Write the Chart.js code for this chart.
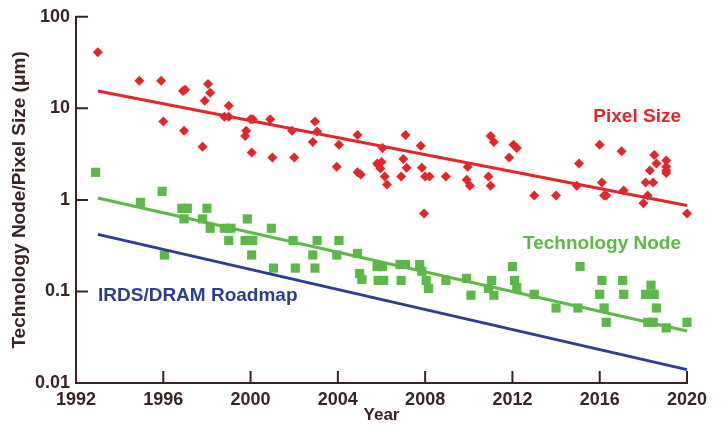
<!DOCTYPE html>
<html><head><meta charset="UTF-8">
<title>Technology Node / Pixel Size</title>
<script src="https://cdn.jsdelivr.net/npm/chart.js@4"></script>
<style>html,body{margin:0;padding:0;background:#fff}
#wrap{width:725px;height:428px}</style>
</head><body>
<div id="wrap"><canvas id="c"></canvas></div>
<script>
// pixel size measurements (µm)
const pixelYears = [1993, 1994.9, 1995.9, 1996, 1996.9, 1997, 1996.95, 1998.05, 1998.15, 1997.9, 1997.8,
  1999, 1998.8, 1999, 2000, 2000.1, 1999.8, 1999.75, 2000.05, 2000.9, 2001, 2001.9, 2002,
  2002.95, 2003.05, 2002.85, 2003.95, 2004.05, 2004.9, 2004.9, 2005.05, 2006.05, 2005.8, 2006, 2005.85, 2005.95,
  2006.15, 2006.25, 2007.1, 2007, 2007.15, 2006.9, 2007.8, 2007.85, 2008, 2008.2, 2007.95, 2008.95,
  2009.95, 2009.9, 2010.05, 2011, 2011.15, 2010.9, 2011, 2011.85, 2012.05, 2012.2, 2013, 2014,
  2015.05, 2014.95, 2016, 2016.1, 2016.2, 2016.3, 2017, 2017.1, 2018.5, 2018.6, 2019.05, 2019.05,
  2019.05, 2019.05, 2018.3, 2018.1, 2018.45, 2018.2, 2018, 2020];
const pixelSizes = [41, 20, 20, 7.2, 15.5, 16, 5.7, 18.5, 14.8, 12.1, 3.8,
  10.7, 8.1, 8.1, 7.6, 7.6, 5.7, 5.0, 3.3, 7.6, 2.9, 5.7, 2.9,
  7.2, 5.6, 4.3, 2.3, 4.0, 5.1, 2.0, 1.9, 3.7, 2.5, 2.6, 2.4, 2.2,
  1.8, 1.47, 5.1, 2.8, 2.24, 1.8, 3.9, 2.24, 1.8, 1.8, 0.71, 1.8,
  2.3, 1.66, 1.43, 5.0, 4.3, 1.8, 1.43, 2.9, 4.0, 3.7, 1.12, 1.12,
  2.5, 1.43, 4.0, 1.55, 1.12, 1.12, 3.4, 1.27, 3.1, 2.5, 2.7, 2.3,
  2.1, 1.97, 2.1, 1.55, 1.55, 1.12, 0.92, 0.71];

// technology node measurements (µm)
const nodeYears = [1992.9, 1994.95, 1995.95, 1996.05, 1996.85, 1997.1, 1996.95, 1998, 1997.8, 1998.15,
  1998.8, 1999.1, 1999, 1999.85, 1999.75, 2000.1, 2000.05, 2000.95, 2001.05, 2001.95, 2002.05,
  2003.05, 2002.85, 2002.95, 2004.05, 2003.95, 2004.9, 2005, 2005.1, 2005.8, 2006.05, 2005.85, 2006.1,
  2006.85, 2007.1, 2006.9, 2007.75, 2007.85, 2008.05, 2008.15, 2008.95, 2009.9, 2010.1,
  2011.05, 2011.15, 2010.9, 2012, 2012.1, 2012.2, 2013, 2014, 2015, 2015.1,
  2016.1, 2016, 2016.2, 2016.3, 2017.05, 2017.1, 2018.35, 2018.1, 2018.5, 2018.6,
  2018.2, 2018.45, 2019.05, 2020];
const nodeSizes = [2.0, 0.94, 1.24, 0.25, 0.81, 0.81, 0.62, 0.81, 0.62, 0.49,
  0.49, 0.49, 0.36, 0.62, 0.36, 0.36, 0.25, 0.49, 0.18, 0.36, 0.18,
  0.36, 0.25, 0.18, 0.36, 0.25, 0.26, 0.157, 0.135, 0.187, 0.187, 0.132, 0.132,
  0.197, 0.197, 0.132, 0.197, 0.166, 0.132, 0.108, 0.132, 0.139, 0.091,
  0.132, 0.091, 0.108, 0.187, 0.132, 0.11, 0.093, 0.066, 0.066, 0.187,
  0.132, 0.093, 0.066, 0.046, 0.132, 0.093, 0.117, 0.093, 0.093, 0.066,
  0.046, 0.046, 0.040, 0.046];

// fitted trend lines, start/end
const trendYears = [1993, 2020];
const pixelTrend = [15.5, 0.87];
const nodeTrend = [1.05, 0.037];
const roadmapTrend = [0.42, 0.014];

const yearTicks = [1992, 1996, 2000, 2004, 2008, 2012, 2016, 2020];
const sizeTicks = [0.01, 0.1, 1, 10, 100];
const sizeLabels = ['0.01', '0.1', '1', '10', '100'];

const RED = '#e3262b', GREEN = '#5cb947', BLUE = '#2d3c94', AXIS = '#3a2424';
const FONT = '"Liberation Sans", Arial, sans-serif';

const pts = (xs, ys) => xs.map((x, i) => ({ x, y: ys[i] }));

// inward tick marks + series labels
const extras = {
  id: 'extras',
  afterDraw(chart) {
    const { ctx, chartArea: a, scales: { x, y } } = chart;
    ctx.save();
    ctx.strokeStyle = AXIS;
    ctx.lineWidth = 2;
    ctx.beginPath();
    yearTicks.forEach(t => {
      const px = x.getPixelForValue(t);
      ctx.moveTo(px, a.bottom); ctx.lineTo(px, a.bottom - 12);
    });
    sizeTicks.forEach(t => {
      const py = y.getPixelForValue(t);
      ctx.moveTo(a.left, py); ctx.lineTo(a.left + 12, py);
    });
    ctx.stroke();
    ctx.font = 'bold 19px ' + FONT;
    ctx.textBaseline = 'middle';
    ctx.textAlign = 'right';
    ctx.fillStyle = RED; ctx.fillText('Pixel Size', 681, 117);
    ctx.fillStyle = GREEN; ctx.fillText('Technology Node', 681, 244);
    ctx.textAlign = 'left';
    ctx.fillStyle = BLUE; ctx.fillText('IRDS/DRAM Roadmap', 98, 296);
    ctx.restore();
  }
};

const line = (data, color) => ({
  type: 'line', data: pts(trendYears, data), borderColor: color, borderWidth: 3,
  pointRadius: 0, fill: false, clip: false
});

new Chart(document.getElementById('c'), {
  type: 'scatter',
  data: {
    datasets: [
      line(pixelTrend, RED),
      line(nodeTrend, GREEN),
      line(roadmapTrend, BLUE),
      { data: pts(pixelYears, pixelSizes), pointStyle: 'rectRot', pointRadius: 5,
        backgroundColor: RED, borderWidth: 0, clip: false },
      { data: pts(nodeYears, nodeSizes), pointStyle: 'rect', pointRadius: 6.5,
        backgroundColor: GREEN, borderWidth: 0, clip: false }
    ]
  },
  options: {
    responsive: true, maintainAspectRatio: false, animation: false, devicePixelRatio: 1,
    layout: { padding: { top: 12, right: 38, left: 0, bottom: 0 } },
    plugins: { legend: { display: false }, tooltip: { enabled: false } },
    scales: {
      x: {
        type: 'linear', min: 1992, max: 2020,
        afterBuildTicks: s => { s.ticks = yearTicks.map(v => ({ value: v })); },
        afterFit: s => { s.height = 45; },
        grid: { display: false, drawTicks: false },
        border: { display: true, color: AXIS, width: 2 },
        ticks: { padding: 6, color: AXIS, maxRotation: 0, autoSkip: false,
          font: { family: FONT, weight: 'bold', size: 18 }, callback: v => String(v) },
        title: { display: true, text: 'Year', color: AXIS, padding: { top: 0, bottom: 2 },
          font: { family: FONT, weight: 'bold', size: 17 } }
      },
      y: {
        type: 'logarithmic', min: 0.01, max: 100,
        afterBuildTicks: s => { s.ticks = sizeTicks.map(v => ({ value: v })); },
        afterFit: s => { s.width = 76; },
        grid: { display: false, drawTicks: false },
        border: { display: true, color: AXIS, width: 2 },
        ticks: { padding: 6, color: AXIS, autoSkip: false,
          font: { family: FONT, weight: 'bold', size: 18 },
          callback: v => sizeLabels[sizeTicks.indexOf(v)] },
        title: { display: true, text: 'Technology Node/Pixel Size (μm)', color: AXIS,
          padding: { top: 8, bottom: 0 }, font: { family: FONT, weight: 'bold', size: 19 } }
      }
    }
  },
  plugins: [extras]
});
</script></body></html>
